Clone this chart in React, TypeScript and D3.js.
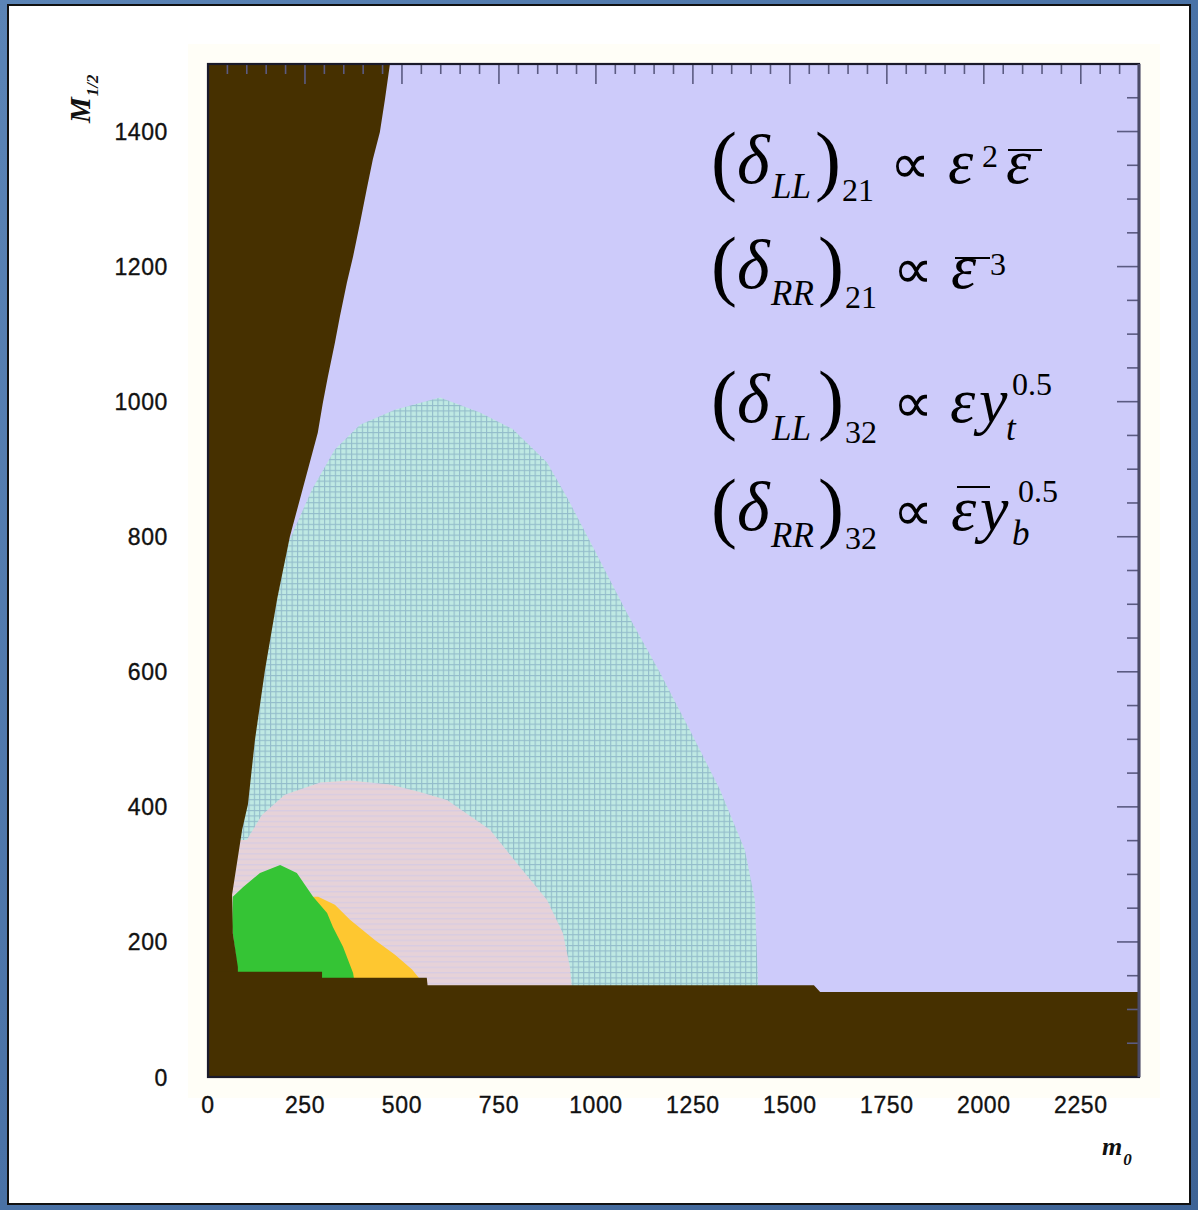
import React from 'react';
import * as d3 from 'd3';

const W = 1198;
const H = 1210;

// Axis ranges: m0 horizontally, M1/2 vertically
const m0Range: [number, number] = [0, 2400];
const m12Range: [number, number] = [0, 1500];
const m0Ticks = [0, 250, 500, 750, 1000, 1250, 1500, 1750, 2000, 2250];
const m12Ticks = [0, 200, 400, 600, 800, 1000, 1200, 1400];

// Excluded wedge at small m0: its right edge [m0, M1/2], bottom to top
const wedgeEdge: [number, number][] = [
  [77, 140], [77, 163], [64, 213], [62, 270], [88, 366], [103, 404], [121, 499],
  [147, 603], [178, 707], [211, 800], [283, 954], [296, 998], [309, 1037],
  [327, 1087], [340, 1126], [358, 1176], [374, 1215], [392, 1265], [409, 1314],
  [425, 1359], [443, 1399], [456, 1447], [469, 1500],
];

// Excluded band at small M1/2: its upper edge [m0, M1/2], left to right
const bandTop: [number, number][] = [
  [0, 156], [294, 156], [294, 147], [564, 147], [566, 136], [1562, 136],
  [1578, 126], [2400, 126],
];

// Allowed region boundaries [m0, M1/2]
const cyanRegion: [number, number][] = [
  [598, 1006], [701, 984], [786, 959], [874, 910], [925, 859], [992, 785],
  [1080, 687], [1165, 599], [1242, 514], [1320, 425], [1384, 336], [1410, 262],
  [1418, 136], [1418, 0], [0, 0], [0, 559], [82, 707], [211, 796], [268, 870],
  [327, 929], [392, 966], [482, 988],
];

const pinkRegion: [number, number][] = [
  [100, 351], [139, 388], [198, 418], [289, 436], [366, 439], [469, 433],
  [546, 422], [616, 410], [727, 366], [804, 311], [874, 262], [915, 213],
  [933, 163], [941, 114], [941, 0], [60, 0], [60, 351],
];

const yellowRegion: [number, number][] = [
  [284, 267], [327, 255], [366, 233], [430, 203], [482, 181], [526, 159],
  [559, 136], [559, 0], [250, 0], [250, 267],
];

const greenRegion: [number, number][] = [
  [186, 314], [229, 302], [271, 267], [307, 243], [322, 222], [348, 193],
  [374, 154], [379, 136], [379, 0], [75, 0], [75, 163], [62, 222], [64, 267],
  [90, 281], [134, 302],
];

const plot = { left: 208, right: 1139, top: 64, bottom: 1077 };

const serif = "'Liberation Serif', 'Times New Roman', serif";
const sans = "'Liberation Sans', Arial, sans-serif";

type Piece = { t: string; x: number; y: number; s: number; it?: boolean };

// Text of the four relations drawn over the plot
const relationPieces: Piece[] = [
  { t: '(', x: 711, y: 186, s: 78 }, { t: 'δ', x: 737, y: 183, s: 70, it: true },
  { t: 'LL', x: 772, y: 198, s: 35, it: true }, { t: ')', x: 815, y: 186, s: 78 },
  { t: '21', x: 842, y: 201, s: 32 }, { t: '∝', x: 890, y: 183, s: 56 },
  { t: 'ε', x: 948, y: 183, s: 64, it: true }, { t: '2', x: 982, y: 167, s: 32 },
  { t: 'ε', x: 1006, y: 183, s: 64, it: true },

  { t: '(', x: 711, y: 291, s: 78 }, { t: 'δ', x: 737, y: 288, s: 70, it: true },
  { t: 'RR', x: 771, y: 305, s: 35, it: true }, { t: ')', x: 818, y: 291, s: 78 },
  { t: '21', x: 845, y: 308, s: 32 }, { t: '∝', x: 893, y: 288, s: 56 },
  { t: 'ε', x: 951, y: 288, s: 64, it: true }, { t: '3', x: 990, y: 275, s: 32 },

  { t: '(', x: 711, y: 425, s: 78 }, { t: 'δ', x: 737, y: 422, s: 70, it: true },
  { t: 'LL', x: 772, y: 440, s: 35, it: true }, { t: ')', x: 818, y: 425, s: 78 },
  { t: '32', x: 845, y: 443, s: 32 }, { t: '∝', x: 893, y: 422, s: 56 },
  { t: 'ε', x: 950, y: 422, s: 64, it: true }, { t: 'y', x: 979, y: 422, s: 64, it: true },
  { t: 't', x: 1006, y: 440, s: 35, it: true }, { t: '0.5', x: 1012, y: 395, s: 32 },

  { t: '(', x: 711, y: 533, s: 78 }, { t: 'δ', x: 737, y: 530, s: 70, it: true },
  { t: 'RR', x: 771, y: 547, s: 35, it: true }, { t: ')', x: 818, y: 533, s: 78 },
  { t: '32', x: 845, y: 549, s: 32 }, { t: '∝', x: 893, y: 530, s: 56 },
  { t: 'ε', x: 951, y: 530, s: 64, it: true }, { t: 'y', x: 980, y: 530, s: 64, it: true },
  { t: 'b', x: 1012, y: 545, s: 35, it: true }, { t: '0.5', x: 1018, y: 502, s: 32 },
];

// Overbars on the conjugate ε symbols
const bars = [
  { x1: 1008, x2: 1042, y: 150 },
  { x1: 955, x2: 990, y: 258 },
  { x1: 957, x2: 990, y: 487 },
];

export default function App() {
  const x = d3.scaleLinear().domain(m0Range).range([plot.left, plot.right]);
  const y = d3.scaleLinear().domain(m12Range).range([plot.bottom, plot.top]);
  const line = d3.line<[number, number]>().x((d) => x(d[0])).y((d) => y(d[1]));
  const poly = (pts: [number, number][]) => line(pts) + 'Z';

  const wedge: [number, number][] = [[0, 0], [77, 0], ...wedgeEdge, [0, 1500]];
  const band: [number, number][] = [[0, 0], ...bandTop, [2400, 0]];

  const topMinor = d3.range(0, 2400 + 1, 50).filter((v) => v % 250 !== 0);
  const rightMinor = d3.range(0, 1500 + 1, 50).filter((v) => v % 200 !== 0);
  const tickColor = '#5b5b82';

  return (
    <svg width={W} height={H} style={{ position: 'absolute', left: 0, top: 0, display: 'block' }}>
      <defs>
        <linearGradient id="frameBlue" x1="0" y1="0" x2="1" y2="1">
          <stop offset="0" stopColor="#5b84b6" />
          <stop offset="0.5" stopColor="#4a72a6" />
          <stop offset="1" stopColor="#3e6395" />
        </linearGradient>
        <pattern id="cyanCells" width={5.4} height={5.4} patternUnits="userSpaceOnUse">
          <rect width={5.4} height={5.4} fill="#93bccb" />
          <rect x={1.1} y={1.1} width={4.3} height={4.3} fill="#bfe9e3" />
        </pattern>
        <pattern id="pinkRows" width={5.4} height={5.4} patternUnits="userSpaceOnUse">
          <rect width={5.4} height={5.4} fill="#e6d2d8" />
          <rect y={0} width={5.4} height={1.3} fill="#d8cce2" />
        </pattern>
        <clipPath id="plotClip">
          <rect x={plot.left} y={plot.top} width={plot.right - plot.left} height={plot.bottom - plot.top} />
        </clipPath>
      </defs>

      <rect width={W} height={H} fill="url(#frameBlue)" />
      <rect x={8} y={5} width={1182} height={1199} fill="#ffffff" stroke="#111" strokeWidth={2} />
      <rect x={188} y={44} width={972} height={1054} fill="#fffef7" />

      <g clipPath="url(#plotClip)">
        <rect x={plot.left} y={plot.top} width={plot.right - plot.left} height={plot.bottom - plot.top} fill="#cdcbfa" />
        <path d={poly(cyanRegion)} fill="url(#cyanCells)" />
        <path d={poly(pinkRegion)} fill="url(#pinkRows)" />
        <path d={poly(yellowRegion)} fill="#fec730" />
        <path d={poly(greenRegion)} fill="#35c435" />
        <path d={poly(wedge)} fill="#463000" />
        <path d={poly(band)} fill="#463000" />
      </g>

      {/* tick marks on the top and right edges */}
      <g stroke={tickColor} strokeWidth={1.6}>
        {m0Ticks.map((v) => (
          <line key={'tM' + v} x1={x(v)} x2={x(v)} y1={plot.top} y2={plot.top + 20} />
        ))}
        {topMinor.map((v) => (
          <line key={'tm' + v} x1={x(v)} x2={x(v)} y1={plot.top} y2={plot.top + 10} />
        ))}
        {m12Ticks.map((v) => (
          <line key={'rM' + v} x1={plot.right} x2={plot.right - 22} y1={y(v)} y2={y(v)} />
        ))}
        {rightMinor.map((v) => (
          <line key={'rm' + v} x1={plot.right} x2={plot.right - 12} y1={y(v)} y2={y(v)} />
        ))}
      </g>

      <rect x={plot.left} y={plot.top} width={plot.right - plot.left} height={plot.bottom - plot.top}
        fill="none" stroke="#1a1a2a" strokeWidth={2.2} />
      <line x1={plot.right} x2={plot.right} y1={plot.top} y2={plot.bottom} stroke="#4a4a66" strokeWidth={3} />

      {/* tick labels */}
      <g fontFamily={sans} fontSize={23} fill="#111" stroke="#111" strokeWidth={0.35} letterSpacing={0.6}>
        {m0Ticks.map((v) => (
          <text key={'xl' + v} x={x(v)} y={plot.bottom + 36} textAnchor="middle">{v}</text>
        ))}
        {m12Ticks.map((v) => (
          <text key={'yl' + v} x={168} y={y(v) + 8.5} textAnchor="end">{v}</text>
        ))}
      </g>

      {/* axis titles */}
      <text transform="translate(90,123) rotate(-90)" fontFamily={serif} fontWeight="bold" fontStyle="italic" fill="#111">
        <tspan fontSize={29}>M</tspan>
        <tspan fontSize={17} dy={8} dx={1}>1/2</tspan>
      </text>
      <text x={1102} y={1155} fontFamily={serif} fontWeight="bold" fontStyle="italic" fill="#111">
        <tspan fontSize={26}>m</tspan>
        <tspan fontSize={17} dy={10} dx={1}>0</tspan>
      </text>

      {/* relations */}
      <g fontFamily={serif} fill="#000">
        {relationPieces.map((p, i) => (
          <text key={'r' + i} x={p.x} y={p.y} fontSize={p.s} fontStyle={p.it ? 'italic' : 'normal'}>{p.t}</text>
        ))}
        {bars.map((b, i) => (
          <line key={'b' + i} x1={b.x1} x2={b.x2} y1={b.y} y2={b.y} stroke="#000" strokeWidth={2} />
        ))}
      </g>
    </svg>
  );
}
